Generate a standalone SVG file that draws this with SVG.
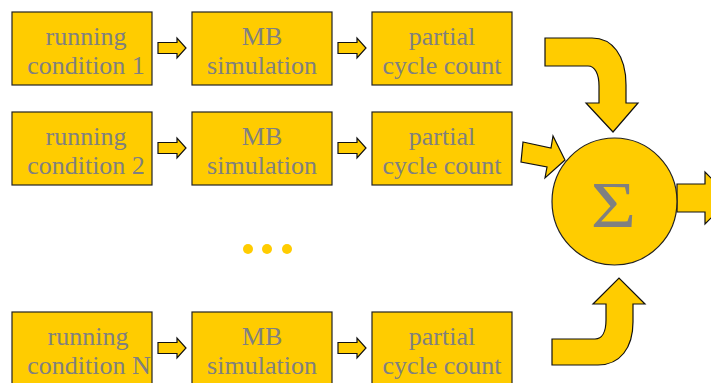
<svg xmlns="http://www.w3.org/2000/svg" width="711" height="383" viewBox="0 0 711 383">
<style>
.box{fill:#FFCC00;stroke:#222;stroke-width:1.2}
.arr{fill:#FFCC00;stroke:#111;stroke-width:1.2;stroke-linejoin:miter}
.t{font-family:"Liberation Serif","Times New Roman",serif;font-size:26px;fill:#808080;text-anchor:middle}
.dot{fill:#FFCC00}
</style>
<defs>
<path id="sa" d="M0,-5.5 L19,-5.5 L19,-10 L28,0 L19,10 L19,5.5 L0,5.5 Z"/>
</defs>
<rect width="711" height="383" fill="#fff"/>
<g id="connectors">
<use href="#sa" class="arr" x="158" y="48"/>
<use href="#sa" class="arr" x="338" y="48"/>
<use href="#sa" class="arr" x="158" y="148"/>
<use href="#sa" class="arr" x="338" y="148"/>
<use href="#sa" class="arr" x="158" y="348"/>
<use href="#sa" class="arr" x="338" y="348"/>
<path class="arr" d="M545,38 L592,38 C612,38 626,55 626,85 L626,103 L638,103 L613,132 L586,103 L599,103 L599,86 C599,74 595,66 588,66 L545,66 Z"/>
<path class="arr" d="M552,339 L595,339 C602,339 606,332 606,320 L606,304 L593,304 L619,278 L645,304 L633,304 L633,322 C633,348 620,365 598,365 L552,365 Z"/>
<path class="arr" d="M523,142 L551,148 L553,136 L565,160 L545,178 L547,167 L521,162 Z"/>
<path class="arr" d="M677,184 L705,184 L705,172 L731,198 L705,224 L705,212 L677,212 Z"/>
</g>
<g id="n1"><rect class="box" x="12" y="12" width="140" height="73"/><text class="t" x="86" y="45">running</text><text class="t" x="86" y="74">condition 1</text></g>
<g id="n2"><rect class="box" x="192" y="12" width="140" height="73"/><text class="t" x="262" y="45">MB</text><text class="t" x="262" y="74">simulation</text></g>
<g id="n3"><rect class="box" x="372" y="12" width="140" height="73"/><text class="t" x="442" y="45">partial</text><text class="t" x="442" y="74">cycle count</text></g>
<g id="n4"><rect class="box" x="12" y="112" width="140" height="73"/><text class="t" x="86" y="145">running</text><text class="t" x="86" y="174">condition 2</text></g>
<g id="n5"><rect class="box" x="192" y="112" width="140" height="73"/><text class="t" x="262" y="145">MB</text><text class="t" x="262" y="174">simulation</text></g>
<g id="n6"><rect class="box" x="372" y="112" width="140" height="73"/><text class="t" x="442" y="145">partial</text><text class="t" x="442" y="174">cycle count</text></g>
<g id="n7"><rect class="box" x="12" y="312" width="140" height="80"/><text class="t" x="88" y="345">running</text><text class="t" x="89" y="374">condition N</text></g>
<g id="n8"><rect class="box" x="192" y="312" width="140" height="80"/><text class="t" x="262" y="345">MB</text><text class="t" x="262" y="374">simulation</text></g>
<g id="n9"><rect class="box" x="372" y="312" width="140" height="80"/><text class="t" x="442" y="345">partial</text><text class="t" x="442" y="374">cycle count</text></g>
<g id="dots"><circle class="dot" cx="248" cy="249" r="5"/><circle class="dot" cx="267" cy="249" r="5"/><circle class="dot" cx="287" cy="249" r="5"/></g>
<g id="sum"><ellipse class="box" cx="614.5" cy="201.5" rx="62.5" ry="63.5"/><text class="t" x="0" y="0" style="font-size:66px" transform="translate(613.5,227) scale(1.18,1)">Σ</text></g>
</svg>
